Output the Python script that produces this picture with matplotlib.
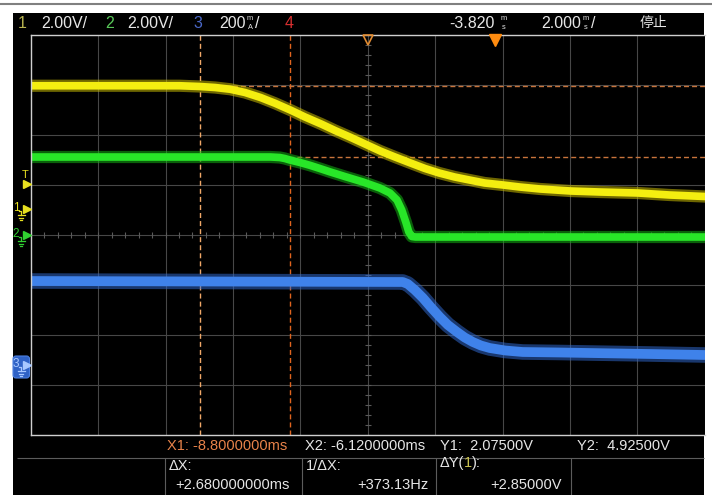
import numpy as np
import matplotlib.pyplot as plt
from matplotlib.patches import Rectangle, FancyBboxPatch

plt.rcParams['font.family'] = ['Liberation Sans', 'Noto Sans CJK SC', 'DejaVu Sans']

# scope settings
t_center = -3.82          # ms, centre of screen
t_div = 2.0               # ms/div
ch1_scale = 2.0           # V/div
ch2_scale = 2.0           # V/div
ch3_scale = 200.0         # mA/div
ch1_gnd, ch2_gnd, ch3_gnd = 0.52, -0.01, -2.60   # ground marker, div from centre

# channel 1 (yellow), V
ch1_t = [-13.82, -9.4, -8.8, -8.35, -7.9, -7.46, -7.0, -6.57, -6.1, -5.68,
         -5.2, -4.79, -4.35, -3.9, -3.45, -3.01, -2.55, -2.12, -1.7, -1.24,
         -0.8, -0.35, 0.2, 0.69, 1.3, 2.2, 3.07, 4.2, 5.14, 6.18]
ch1_v = [4.93, 4.93, 4.90, 4.86, 4.79, 4.66, 4.46, 4.23, 3.95, 3.68,
         3.40, 3.14, 2.88, 2.60, 2.32, 2.08, 1.84, 1.62, 1.44, 1.28,
         1.16, 1.04, 0.96, 0.88, 0.80, 0.72, 0.68, 0.64, 0.56, 0.50]

# channel 2 (green), V
ch2_t = [-13.82, -6.7, -6.43, -6.28, -6.13, -5.83, -5.54, -5.24, -4.95, -4.50,
         -3.96, -3.46, -3.16, -2.95, -2.81, -2.69, -2.60, -2.51, -2.4, 6.18]
ch2_v = [3.14, 3.14, 3.12, 3.08, 3.02, 2.92, 2.81, 2.68, 2.55, 2.36,
         2.14, 1.90, 1.70, 1.42, 1.02, 0.54, 0.14, -0.04, -0.06, -0.06]

# channel 3 (blue), mA
ch3_t = [-13.82, -2.78, -2.63, -2.42, -2.18, -1.95, -1.68, -1.44, -1.17, -0.94,
         -0.70, -0.46, -0.20, 0.26, 0.78, 1.89, 2.77, 4.56, 6.18]
ch3_i = [336, 332, 324, 300, 268, 232, 192, 160, 132, 110,
         92, 78, 68, 58, 52, 50, 48, 44, 40]

# cursors
x1_t, x2_t = -8.80, -6.12     # ms
y1_v, y2_v = 2.075, 4.925     # V on ch1

W, H = 712, 495
fig = plt.figure(figsize=(W / 100, H / 100), dpi=100)
fig.patch.set_facecolor('white')

bg = fig.add_axes([0, 0, 1, 1], zorder=0)
bg.set_xlim(0, W)
bg.set_ylim(H, 0)
bg.axis('off')
bg.add_patch(Rectangle((13, 13), 691, 482, fc='black', ec='none'))
bg.plot([0, W], [4, 4], color='#808080', lw=1.5)

# graticule
ax = fig.add_axes([30.7 / W, 60 / H, 674 / W, 400 / H], zorder=1)
ax.set_facecolor('black')
ax.set_xlim(t_center - 5 * t_div, t_center + 5 * t_div)
ax.set_ylim(-4, 4)
ax.set_xticks(t_center + t_div * np.arange(-5, 6))
ax.set_yticks(np.arange(-4, 5))
ax.grid(color='#474747', lw=0.8)
ax.tick_params(length=0, labelbottom=False, labelleft=False)
for s in ['left', 'top', 'bottom']:
    ax.spines[s].set_color('#cfcfcf')
    ax.spines[s].set_linewidth(1.0)
ax.spines['right'].set_visible(False)
ax.hlines(np.arange(-4, 4.01, 0.2), t_center - 0.09, t_center + 0.09,
          color='#5a5a5a', lw=0.8)
ax.vlines(t_center + t_div * np.arange(-5, 5.01, 0.2), -0.06, 0.06,
          color='#5a5a5a', lw=0.8)

# cursors
ax.axvline(x1_t, color='#f0a868', lw=1.0, dashes=(3.6, 2.2))
ax.axvline(x2_t, color='#e0641e', lw=1.0, dashes=(3.6, 2.2))
for v in (y1_v, y2_v):
    ax.axhline(ch1_gnd + v / ch1_scale, color='#c8743c', lw=1.0, dashes=(3.6, 2.2))


def trace(t, vals, gnd, scale, core, edge, w):
    y = gnd + np.asarray(vals) / scale
    ax.plot(t, y, color=edge, lw=w * 1.6, alpha=0.55, solid_joinstyle='round')
    ax.plot(t, y, color=core, lw=w, solid_joinstyle='round')


trace(ch3_t, ch3_i, ch3_gnd, ch3_scale, '#3f82ea', '#2f66c8', 7.0)
trace(ch2_t, ch2_v, ch2_gnd, ch2_scale, '#28e628', '#14b014', 5.5)
trace(ch1_t, ch1_v, ch1_gnd, ch1_scale, '#f4ee10', '#cabc00', 5.5)

# overlay for texts and markers
top = fig.add_axes([0, 0, 1, 1], zorder=2)
top.set_xlim(0, W)
top.set_ylim(H, 0)
top.axis('off')
top.patch.set_alpha(0)

hy = 23


def stacked(x, a, b):
    # small unit letters stacked one above the other
    top.text(x, hy - 4.6, a, color='#e6e6e6', fontsize=5.3, va='center', ha='center')
    top.text(x, hy + 4.6, b, color='#e6e6e6', fontsize=5.3, va='center', ha='center')


# header
top.text(18, hy, '1', color='#b8b450', fontsize=11.5, va='center')
top.text(41, hy, '2.00V/', color='#e6e6e6', fontsize=11.5, va='center')
top.text(105, hy, '2', color='#58c858', fontsize=11.5, va='center')
top.text(127, hy, '2.00V/', color='#e6e6e6', fontsize=11.5, va='center')
top.text(193, hy, '3', color='#4a68c8', fontsize=11.5, va='center')
top.text(219, hy, '200', color='#e6e6e6', fontsize=11.5, va='center')
stacked(250, 'm', 'A')
top.text(255, hy, '/', color='#e6e6e6', fontsize=11.5, va='center')
top.text(285, hy, '4', color='#d83030', fontsize=11.5, va='center')
top.text(449, hy, '-3.820', color='#e6e6e6', fontsize=11.5, va='center')
stacked(504, 'm', 's')
top.text(541, hy, '2.000', color='#e6e6e6', fontsize=11.5, va='center')
stacked(586, 'm', 's')
top.text(591, hy, '/', color='#e6e6e6', fontsize=11.5, va='center')
top.text(640, hy, '停止', color='#e6e6e6', fontsize=10, va='center')

# trigger / expansion markers on the top edge
top.plot([368], [39.5], marker='v', ms=7, mfc='none', mec='#e08a30', mew=1.2)
top.plot([495], [39.5], marker='v', ms=8, color='#ff8c10')


def gnd_marker(y, label, color):
    top.text(16, y - 1, label, color=color, fontsize=8.5, ha='center', va='center')
    top.plot([19, 21, 21], [y + 2, y + 2, y + 6], color=color, lw=0.9)
    top.plot([17.5, 24.5], [y + 6, y + 6], color=color, lw=0.9)
    top.plot([18.8, 23.2], [y + 8.5, y + 8.5], color=color, lw=0.9)
    top.plot([20.2, 21.8], [y + 11, y + 11], color=color, lw=0.9)
    top.plot([26.5], [y], marker='>', ms=5.5, color=color)


top.text(25, 175, 'T', color='#e8e020', fontsize=8, ha='center', va='center')
top.plot([26.5], [184], marker='>', ms=5.5, color='#e8e020')
gnd_marker(209, '1', '#e8e020')
gnd_marker(235, '2', '#30d030')
top.add_patch(FancyBboxPatch((13, 356), 16.5, 22, boxstyle='round,pad=0,rounding_size=3',
                             fc='#2f62c6', ec='#4c80e0', lw=0.8))
gnd_marker(365, '3', '#a8c8ff')

# bottom cursor readout
top.hlines(458, 17, 704, color='#5c5c5c', lw=0.8)
top.vlines([165, 302, 436, 571], 458, 495, color='#5c5c5c', lw=0.8)
fs = 10.5
top.text(167, 446, 'X1: -8.8000000ms', color='#e8834a', fontsize=fs, va='center')
top.text(305, 446, 'X2: -6.1200000ms', color='#e6e6e6', fontsize=fs, va='center')
top.text(440, 446, 'Y1:  2.07500V', color='#e6e6e6', fontsize=fs, va='center')
top.text(577, 446, 'Y2:  4.92500V', color='#e6e6e6', fontsize=fs, va='center')
top.text(169, 466, 'ΔX:', color='#e6e6e6', fontsize=fs, va='center')
top.text(175, 485, '+2.680000000ms', color='#e6e6e6', fontsize=fs, va='center')
top.text(306, 466, '1/ΔX:', color='#e6e6e6', fontsize=fs, va='center')
top.text(357, 485, '+373.13Hz', color='#e6e6e6', fontsize=fs, va='center')
top.text(440, 463, 'ΔY(', color='#e6e6e6', fontsize=fs, va='center')
top.text(464, 463, '1', color='#c8c050', fontsize=fs, va='center')
top.text(472, 463, '):', color='#e6e6e6', fontsize=fs, va='center')
top.text(490, 485, '+2.85000V', color='#e6e6e6', fontsize=fs, va='center')

fig.savefig('out.png', dpi=100, facecolor=fig.get_facecolor())
